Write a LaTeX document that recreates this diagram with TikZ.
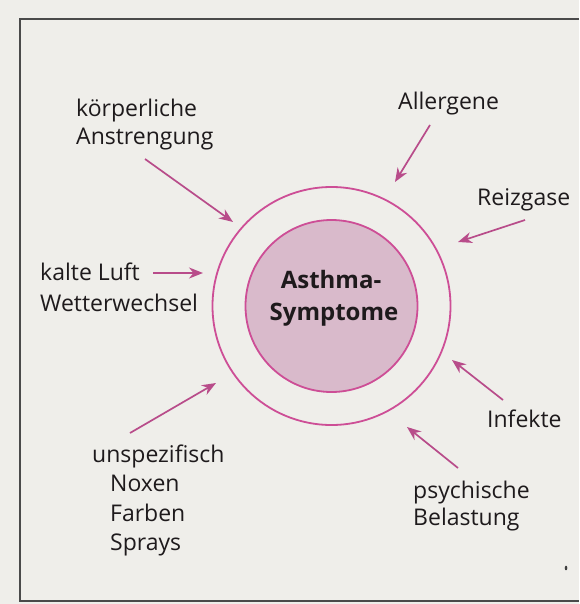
\documentclass[tikz,border=0pt]{standalone}
\usepackage{fontspec}
\setmainfont{Open Sans}
\usetikzlibrary{arrows.meta}
\definecolor{bg}{HTML}{EFEEEA}
\definecolor{boxc}{HTML}{4A4A4A}
\definecolor{circc}{HTML}{CD4E96}
\definecolor{arrc}{HTML}{B84C8A}
\definecolor{fillc}{HTML}{D9BACB}
\definecolor{txt}{HTML}{1E1A1C}
\begin{document}
\begin{tikzpicture}[x=1pt,y=-1pt,
  lbl/.style={anchor=base west, inner sep=0pt, text=txt, font=\fontsize{23}{27}\selectfont},
  ctr/.style={anchor=base, inner sep=0pt, text=txt, font=\fontsize{24}{30}\selectfont\bfseries},
  arr/.style={draw=arrc, line width=1.7pt, -{Stealth[length=14pt,width=11pt,inset=4.5pt]}},
  ring/.style={circle, draw=circc, line width=1.8pt, inner sep=0pt}]
\useasboundingbox (0,0) rectangle (579,604);
\fill[bg] (0,0) rectangle (579,604);
\draw[boxc, line width=1.4pt] (579,19) -- (20,19) -- (20,601) -- (579,601);
\node[ring, minimum size=238pt] (outer) at (331.5,306) {};
\node[ring, fill=fillc, minimum size=172pt] (inner) at (331.5,306) {};
\node[ctr] (a1) at (331,288) {Asthma-};
\node[ctr] (a2) at (334,320) {Symptome};
% labels
\node[lbl] (k1) at (76,117) {körperliche};
\node[lbl] (k2) at (76,145) {Anstrengung};
\node[lbl] (al) at (398,110) {Allergene};
\node[lbl] (rz) at (477,205) {Reizgase};
\node[lbl] (kl1) at (40,280) {kalte Luft};
\node[lbl] (kl2) at (40,311) {Wetterwechsel};
\node[lbl] (inf) at (487,427) {Infekte};
\node[lbl] (ps1) at (413,498) {psychische};
\node[lbl] (ps2) at (413,525) {Belastung};
\node[lbl] (un1) at (92,462) {unspezifisch};
\node[lbl] (un2) at (110,491) {Noxen};
\node[lbl] (un3) at (110,521) {Farben};
\node[lbl] (un4) at (110,550) {Sprays};
% arrow ends
\coordinate (s1) at (145,159); \coordinate (t1) at (233,222);
\coordinate (s2) at (430,125); \coordinate (t2) at (395,182);
\coordinate (s3) at (525,220); \coordinate (t3) at (458,242);
\coordinate (s4) at (153,273); \coordinate (t4) at (203,273);
\coordinate (s5) at (503,400); \coordinate (t5) at (452,360);
\coordinate (s6) at (458,468); \coordinate (t6) at (407,427);
\coordinate (s7) at (130,433); \coordinate (t7) at (216,383);
\foreach \i in {1,...,7} {\draw[arr] (s\i) -- (t\i);}
\fill[black!75] (566,568) ellipse (1.3 and 2.3);
\end{tikzpicture}
\end{document}
